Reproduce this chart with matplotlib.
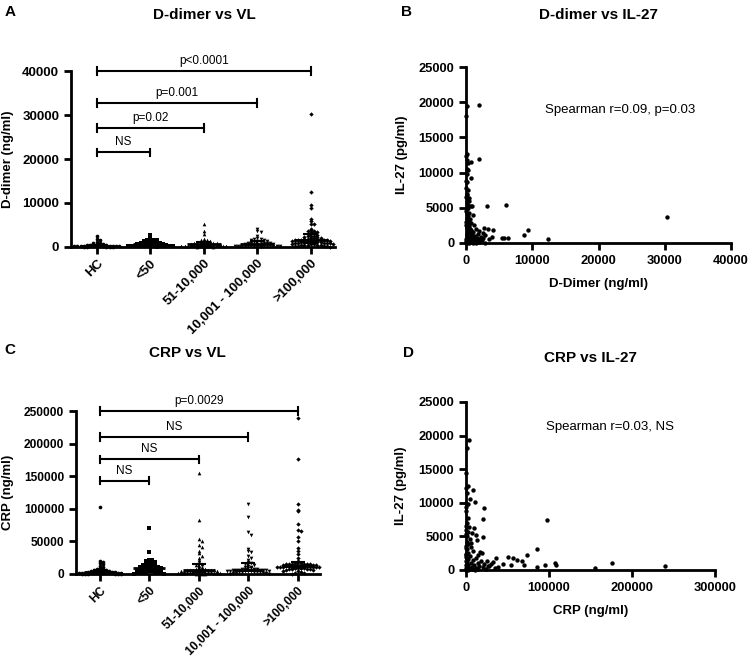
import numpy as np
import matplotlib
matplotlib.use("Agg")
import matplotlib.pyplot as plt

plt.rcParams['font.family'] = ['Liberation Sans', 'DejaVu Sans']

# ---------------- data ----------------
groups = ["HC", "<50", "51-10,000", "10,001 - 100,000", ">100,000"]

ddimer_hc = [2500, 1800, 1500, 1200, 900, 800, 700, 600, 550, 500, 450, 400, 380, 350, 320, 300,
             280, 260, 250, 230, 220, 200, 180, 170, 150, 140, 120, 100, 90, 80, 60, 50]
ddimer_lt50 = [2700, 1800, 1700, 1600, 1500, 1400, 1200, 1100, 1000, 950, 900, 850, 800, 750, 700,
               650, 600, 550, 500, 480, 450, 420, 400, 380, 350, 300, 280, 250, 220, 200, 180, 150, 120, 100]
ddimer_51 = [5300, 3600, 3000, 1900, 1600, 1500, 1400, 1300, 1200, 1100, 1000, 950, 900, 850, 800,
             750, 700, 650, 600, 550, 500, 480, 450, 420, 400, 380, 350, 320, 300, 280, 250, 220,
             200, 180, 150, 120, 100, 80]
ddimer_10k = [4200, 3700, 3500, 2600, 2000, 1900, 1800, 1700, 1500, 1400, 1300, 1200, 1100, 1000,
              950, 900, 850, 800, 750, 700, 650, 600, 550, 500, 450, 400, 380, 350, 300, 280, 250,
              220, 200, 180, 150, 120, 100]
ddimer_100k = [30300, 12500, 9500, 8800, 6400, 6000, 5300, 5200, 4100, 3900, 3700, 3600, 3500, 3300,
               3200, 3000, 2800, 2600, 2500, 2400, 2300, 2200, 2100, 2000, 1950, 1900, 1850, 1800,
               1750, 1700, 1650, 1600, 1550, 1500, 1450, 1400, 1350, 1300, 1250, 1200, 1150, 1100,
               1050, 1000, 950, 900, 850, 800, 750, 700, 650, 600, 550, 500, 450, 400, 350, 300,
               250, 200, 150, 100]

crp_hc = [102000, 20000, 19000, 17000, 15000, 12000, 10000, 9000, 8000, 7000, 6000, 5500, 5000,
          4800, 4500, 4200, 4000, 3800, 3500, 3200, 3000, 2800, 2600, 2500, 2300, 2200, 2000, 1900,
          1800, 1600, 1500, 1300, 1200, 1100, 1000, 900, 800, 700, 600, 500, 400, 300, 200]
crp_lt50 = [70000, 33000, 22000, 21000, 20000, 19000, 18000, 17000, 16000, 15000, 14000, 13000,
            12500, 12000, 11500, 11000, 10500, 10000, 9500, 9000, 8500, 8000, 7500, 7000, 6500,
            6000, 5500, 5000, 4500, 4000, 3500, 3000, 2500, 2000, 1500, 1000, 800, 500, 300]
crp_51 = [155000, 83000, 53000, 51000, 45000, 42000, 36000, 32000, 28000, 25000, 22000, 18000,
          15000, 14000, 12000, 10000, 9000, 8000, 7500, 7000, 6800, 6500, 6200, 6000, 5800, 5500,
          5200, 5000, 4800, 4500, 4200, 4000, 3800, 3500, 3200, 3000, 2800, 2500, 2200, 2000, 1800,
          1500, 1200, 1000, 800, 600, 400, 200]
crp_10k = [107000, 87000, 64000, 60000, 38000, 35000, 33000, 27000, 24000, 22000, 18000, 17000,
           15000, 14000, 12000, 11000, 10000, 9000, 8500, 8000, 7500, 7200, 7000, 6800, 6500, 6200,
           6000, 5800, 5500, 5200, 5000, 4800, 4500, 4200, 4000, 3800, 3500, 3200, 3000, 2500, 2000,
           1500, 1000, 800, 500, 300]
crp_100k = [240000, 177000, 108000, 98000, 96000, 76000, 68000, 66000, 56000, 50000, 40000, 36000,
            30000, 25000, 20000, 18000, 17000, 16500, 16000, 15800, 15500, 15200, 15000, 14800,
            14500, 14200, 14000, 13800, 13500, 13200, 13000, 12800, 12500, 12200, 12000, 11800,
            11500, 11200, 11000, 10800, 10500, 10200, 10000, 9800, 9500, 9200, 9000, 8800, 8500,
            8200, 8000, 7500, 7000, 6500, 6000, 5000, 4000, 3000, 2000, 1000, 500]

ddimer_pvals = ["NS", "p=0.02", "p=0.001", "p<0.0001"]
ddimer_bar_y = [21500, 27000, 32800, 40000]
crp_pvals = ["NS", "NS", "NS", "p=0.0029"]
crp_bar_y = [143000, 176000, 210000, 250000]

b_ddimer = [30400, 12400, 9400, 8800, 6400, 6100, 5500, 5700, 3200, 3300, 4000, 2700, 3900, 3500,
            1900, 1900, 800, 700, 80, 60, 150, 100, 250, 120, 300, 80, 200, 300, 150, 400, 250, 500,
            100, 700, 900, 350, 200, 500, 1000, 300, 150, 600, 400, 800, 200, 1200, 500, 100, 1500,
            700, 300, 2000, 1100, 400, 2500, 1800, 900, 200, 2900, 1400, 600, 2200, 1000, 300, 1700,
            2600, 500, 1300, 800, 2000, 150, 1100, 2400, 600, 1600, 300, 900, 1900, 100, 700, 1200,
            400, 2800, 50, 500, 1500, 200, 1000, 50, 80, 30, 60, 40, 20, 50, 30, 80, 20, 40, 100,
            250, 350, 450, 650, 800]
b_il27 = [3700, 600, 1900, 1100, 650, 5400, 700, 650, 5200, 2000, 1900, 2200, 800, 600,
          19600, 11900, 11500, 9200, 19500, 18100, 12600, 11800, 11300, 10500, 10300, 9800, 8600,
          7500, 7000, 6400, 6100, 6000, 5800, 5300, 5200, 5000, 4800, 4300, 4000, 3900, 3600, 3400,
          3100, 2900, 2700, 2500, 2300, 2100, 2000, 1900, 1800, 1700, 1600, 1500, 1400, 1300, 1200,
          1100, 1100, 1000, 950, 900, 850, 800, 750, 700, 650, 600, 550, 500, 450, 400, 380, 350,
          300, 250, 200, 180, 150, 120, 100, 80, 60, 50, 40, 30, 20, 10, 3000, 4200, 6500, 7800,
          8800, 12300, 4500, 2500, 1300, 600, 300, 6800, 5400, 3300, 2600, 2000, 1400]

d_crp = [240000, 176000, 155000, 107000, 108000, 98000, 95000, 85000, 86000, 74000, 70000, 67000,
         62000, 57000, 54000, 50000, 44000, 36000, 39000, 33000, 30000, 27000, 22000, 21000, 20000,
         19000, 17000, 9000, 5000, 11000, 10000, 12000, 13000, 7000, 6000, 4000, 1000, 2000, 1500,
         3000, 500, 2000, 1000, 3500, 500, 2500, 1200, 4500, 800, 3000, 6000, 1500, 9000, 2000,
         15000, 5000, 500, 12000, 3000, 8000, 18000, 25000, 1000, 14000, 6000, 22000, 10000, 3000,
         28000, 16000, 7000, 1200, 20000, 12000, 4000, 35000, 9000, 2000, 15000, 6000, 24000, 500,
         11000, 3000, 200, 300, 100, 200, 100, 50, 150, 100, 50, 400, 600, 700, 250, 300]
d_il27 = [600, 1000, 300, 1100, 800, 7500, 700, 3100, 500, 2200, 700, 1300, 1500, 1800, 800, 2000,
          900, 1800, 500, 1200, 900, 600, 9200, 7600, 4900, 2500, 2700, 11900, 10600, 10100, 6200,
          5200, 4400, 5500, 4000, 19400, 18100, 12500, 11500, 9800, 8800, 7800, 7000, 6400, 6000,
          5700, 5000, 4600, 4200, 3800, 3400, 3100, 2800, 2600, 2300, 2100, 1900, 1800, 1600, 1500,
          1400, 1300, 1200, 1100, 1000, 900, 800, 700, 650, 600, 500, 450, 400, 350, 300, 250, 200,
          150, 120, 100, 80, 60, 40, 30, 3300, 5300, 6600, 9400, 14500, 2200, 1300, 700, 300, 3600,
          2400, 1700, 12200, 9900]

markers = ['o', 's', '^', 'v', 'D']

# ---------------- figure ----------------
W, H = 753, 656
fig = plt.figure(figsize=(W / 100, H / 100), dpi=100)


def axes_px(left, right, top, bottom):
    return fig.add_axes([left / W, 1 - bottom / H, (right - left) / W, (bottom - top) / H])


def style(ax, ls=9.5):
    for s in ['top', 'right']:
        ax.spines[s].set_visible(False)
    for s in ['left', 'bottom']:
        ax.spines[s].set_linewidth(2)
    ax.tick_params(width=2, length=5, direction='out', labelsize=ls)
    for lab in ax.get_xticklabels() + ax.get_yticklabels():
        lab.set_fontweight('bold')


def swarm_offsets(vals, ymax, axis_px, step=0.06, maxw=0.42, px=3.0):
    vals = np.asarray(vals, dtype=float)
    binsize = ymax / axis_px * px
    bins = np.floor(vals / binsize).astype(int)
    nside = int(maxw / step)
    offs = np.zeros(len(vals))
    counts = {}
    for i, b in enumerate(bins):
        k = counts.get(b, 0)
        counts[b] = k + 1
        kk = k % (2 * nside + 1)
        mag = (kk + 1) // 2
        offs[i] = mag * step * (1 if kk % 2 else -1)
    return offs


def dotplot(ax, data, ymax, axis_px, bar_y, pvals, yticks, ylabel, ylabel_x, ls, xls):
    for i, vals in enumerate(data):
        offs = swarm_offsets(vals, ymax, axis_px)
        ax.scatter(i + offs, vals, marker=markers[i], s=7 if markers[i] != 'D' else 5,
                   color='black', linewidths=0, clip_on=False, zorder=3)
        med = np.median(vals)
        q1, q3 = np.percentile(vals, [25, 75])
        ax.hlines(med, i - 0.32, i + 0.32, color='black', lw=2, zorder=4)
        ax.vlines(i, q1, q3, color='black', lw=1.5, zorder=4)
        ax.hlines([q1, q3], i - 0.14, i + 0.14, color='black', lw=1.5, zorder=4)
    tick_h = ymax * 0.022
    for j, (yb, pv) in enumerate(zip(bar_y, pvals)):
        x1 = j + 1
        ax.plot([0, x1], [yb, yb], color='black', lw=1.5, clip_on=False)
        ax.plot([0, 0], [yb - tick_h, yb + tick_h], color='black', lw=1.5, clip_on=False)
        ax.plot([x1, x1], [yb - tick_h, yb + tick_h], color='black', lw=1.5, clip_on=False)
        ax.annotate(pv, (x1 / 2, yb), xytext=(0, 3), textcoords='offset points',
                    ha='center', va='bottom', fontsize=8.5)
    ax.set_xlim(-0.48, 4.45)
    ax.set_ylim(0, ymax)
    ax.set_yticks(yticks)
    ax.set_xticks(range(len(groups)))
    ax.set_xticklabels(groups, rotation=45, ha='right', rotation_mode='anchor', fontsize=xls)
    ax.set_ylabel(ylabel, fontsize=9.5, fontweight='bold')
    ax.yaxis.set_label_coords(ylabel_x, 0.5)
    style(ax, ls)
    ax.tick_params(axis='x', pad=2.5)


# Panel A
axA = axes_px(71, 335, 71, 247)
dotplot(axA, [ddimer_hc, ddimer_lt50, ddimer_51, ddimer_10k, ddimer_100k], 40000, 176,
        ddimer_bar_y, ddimer_pvals, [0, 10000, 20000, 30000, 40000], 'D-dimer (ng/ml)', -0.215,
        9.5, 9)

# Panel C
axC = axes_px(76, 320, 411, 574)
dotplot(axC, [crp_hc, crp_lt50, crp_51, crp_10k, crp_100k], 250000, 163,
        crp_bar_y, crp_pvals, [0, 50000, 100000, 150000, 200000, 250000], 'CRP (ng/ml)', -0.255,
        8.6, 7.9)

# Panel B
axB = axes_px(466, 731, 67, 243)
axB.scatter(b_ddimer, b_il27, s=10, color='black', linewidths=0, clip_on=False, zorder=3)
axB.set_xlim(0, 40000)
axB.set_ylim(0, 25000)
axB.set_xticks([0, 10000, 20000, 30000, 40000])
axB.set_yticks([0, 5000, 10000, 15000, 20000, 25000])
axB.set_xlabel('D-Dimer (ng/ml)', fontsize=9.5, fontweight='bold', labelpad=8)
axB.set_ylabel('IL-27 (pg/ml)', fontsize=9.5, fontweight='bold')
axB.yaxis.set_label_coords(-0.22, 0.5)
axB.text(23250, 18900, 'Spearman r=0.09, p=0.03', ha='center', va='center', fontsize=9.5)
style(axB, 9.3)

# Panel D
axD = axes_px(466, 715, 402, 570)
axD.scatter(d_crp, d_il27, s=10, color='black', linewidths=0, clip_on=False, zorder=3)
axD.set_xlim(0, 300000)
axD.set_ylim(0, 25000)
axD.set_xticks([0, 100000, 200000, 300000])
axD.set_yticks([0, 5000, 10000, 15000, 20000, 25000])
axD.set_xlabel('CRP (ng/ml)', fontsize=9.5, fontweight='bold', labelpad=8)
axD.set_ylabel('IL-27 (pg/ml)', fontsize=9.5, fontweight='bold')
axD.yaxis.set_label_coords(-0.235, 0.5)
axD.text(173500, 21300, 'Spearman r=0.03, NS', ha='center', va='center', fontsize=9.5)
style(axD, 9.3)

# Titles and panel letters
for x, y, t in [(204, 15, 'D-dimer vs VL'), (598, 15, 'D-dimer vs IL-27'),
                (187, 353, 'CRP vs VL'), (590, 358, 'CRP vs IL-27')]:
    fig.text(x / W, 1 - y / H, t, ha='center', va='center', fontsize=11, fontweight='bold')
for x, y, t in [(10, 12, 'A'), (407, 12, 'B'), (10, 350, 'C'), (409, 353, 'D')]:
    fig.text(x / W, 1 - y / H, t, ha='center', va='center', fontsize=11, fontweight='bold')

fig.savefig('out.png', dpi=100)
